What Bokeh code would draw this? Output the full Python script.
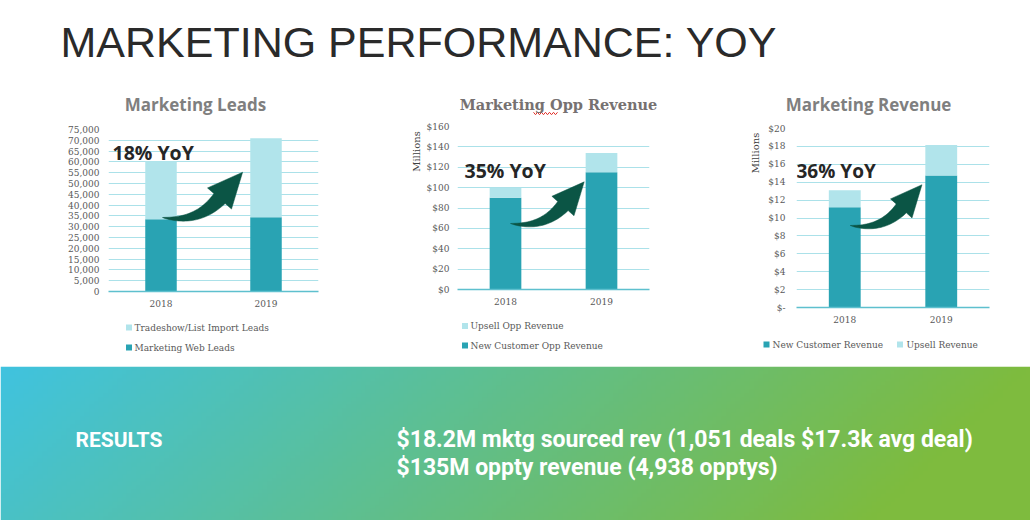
import numpy as np
from bokeh.plotting import figure
from bokeh.layouts import column, row
from bokeh.models import (FactorRange, Range1d, Label, FixedTicker,
                          NumeralTickFormatter, ColumnDataSource)
from bokeh.core.properties import value
from bokeh.embed import file_html
from bokeh.resources import INLINE

# ---------------- data ----------------
years = ["2018", "2019"]
leads_web = [33500, 34400]
leads_trade = [26800, 36600]
opp_new = [90, 115]
opp_upsell = [10, 19]
rev_new = [11.2, 14.75]
rev_upsell = [1.9, 3.4]

leads_ticks = list(range(0, 75001, 5000))
opp_ticks = list(range(0, 161, 20))
rev_ticks = list(range(0, 21, 2))

leads_legend = ["Tradeshow/List Import Leads", "Marketing Web Leads"]
opp_legend = ["Upsell Opp Revenue", "New Customer Opp Revenue"]
rev_legend = ["New Customer Revenue", "Upsell Revenue"]

DARK = "#29A3B3"
LIGHT = "#B1E4EB"
GRID = "#ABE1E9"
AXIS = "#5EC0CE"
ARROW = "#0B5545"
TXT = "#595959"
SERIF = "DejaVu Serif"
SANS = "Open Sans"


def blank(w, h):
    p = figure(width=w, height=h, x_range=Range1d(0, w), y_range=Range1d(0, h),
               min_border=0, x_axis_location=None, y_axis_location=None,
               output_backend="svg", toolbar_location=None)
    p.grid.visible = False
    p.outline_line_color = None
    return p


def lbl(p, x, y, text, size, color, font, bold=False, align="left",
        baseline="middle", angle=0.0, units="screen"):
    p.add_layout(Label(x=x, y=y, x_units=units, y_units=units, text=text,
                       text_font=font, text_font_size=f"{size}px",
                       text_color=color,
                       text_font_style="bold" if bold else "normal",
                       text_align=align, text_baseline=baseline, angle=angle))


def arrow(p, tail, fw, fh, ymax, s=1.0):
    """curved arrow annotation, shape in pixels, converted to data units"""
    P0 = np.array([0.0, 0.0])
    P1 = np.array([35.0, -6.0]) * s
    P2 = np.array([57.0, 19.0]) * s
    t = np.linspace(0, 1, 30)
    pts = ((1 - t)[:, None] ** 2) * P0 + (2 * (1 - t) * t)[:, None] * P1 + (t[:, None] ** 2) * P2
    der = 2 * (1 - t)[:, None] * (P1 - P0) + 2 * t[:, None] * (P2 - P1)
    der = der / np.linalg.norm(der, axis=1)[:, None]
    nrm = np.stack([-der[:, 1], der[:, 0]], axis=1)
    w = 7.5 * s * t ** 0.8
    upper = pts + nrm * w[:, None]
    lower = pts - nrm * w[:, None]
    d = der[-1]
    n = nrm[-1]
    head = [P2 + n * 16 * s, P2 + d * 35 * s, P2 - n * 16 * s]
    poly = np.vstack([upper, head, lower[::-1]])
    poly = poly + np.array(tail)
    xs = poly[:, 0] / (fw / 2.0)
    ys = poly[:, 1] * ymax / fh
    p.patch(xs, ys, fill_color=ARROW, line_color=ARROW, line_width=0.5)


def chart(width, left, fw, fh, ymax, ticks, fmt, overrides, bottom_vals, top_vals,
          bw, ystand):
    top, bottom = 10, 22
    p = figure(x_range=FactorRange(*years), y_range=Range1d(0, ymax),
               width=width, height=top + fh + bottom, min_border_left=left,
               min_border_right=width - left - fw, min_border_top=top,
               min_border_bottom=bottom,
               output_backend="svg", toolbar_location=None)
    p.outline_line_color = None
    p.xgrid.grid_line_color = None
    p.ygrid.grid_line_color = GRID
    p.ygrid.grid_line_width = 1.2
    p.yaxis.ticker = FixedTicker(ticks=ticks)
    p.yaxis.formatter = NumeralTickFormatter(format=fmt)
    if overrides:
        p.yaxis.major_label_overrides = overrides
    p.yaxis.axis_line_color = None
    p.yaxis.major_label_standoff = ystand
    p.xaxis.axis_line_color = AXIS
    p.xaxis.axis_line_width = 1.5
    p.xaxis.major_label_standoff = 8
    for ax in (p.xaxis, p.yaxis):
        ax.major_tick_line_color = None
        ax.minor_tick_line_color = None
        ax.major_tick_out = 0
        ax.major_tick_in = 0
        ax.minor_tick_out = 0
        ax.minor_tick_in = 0
        ax.major_label_text_font = SERIF
        ax.major_label_text_font_size = "9px"
        ax.major_label_text_color = TXT
    src = ColumnDataSource(dict(year=years, a=bottom_vals, b=top_vals))
    p.vbar_stack(["a", "b"], x="year", width=bw, source=src,
                 color=[DARK, LIGHT], line_color=None)
    return p


def legend_fig(w, h, labels, colors, sq_x, txt_x, ys):
    p = blank(w, h)
    p.scatter(x=sq_x, y=ys, marker="square", size=6, color=colors, line_color=None)
    p.text(x=txt_x, y=ys, text=labels, text_font=value(SERIF), text_font_size="9px",
           text_color=TXT, text_baseline="middle")
    return p


def title_fig(w, h, text, x, y, font, size, color):
    p = blank(w, h)
    lbl(p, x, y, text, size, color, font, bold=True, align="center", units="data")
    return p


def millions_fig(w, h, x, y):
    p = blank(w, h)
    lbl(p, x, y, "Millions", 10, "#404040", SERIF, align="center",
        angle=np.pi / 2, units="data")
    return p


# ---- column 1: Marketing Leads ----
t1 = title_fig(375, 29, "Marketing Leads", 195, 15, SANS, 17, "#7F7F7F")
p1 = chart(375, 108, 210, 162, 75000, leads_ticks, "0,0", None, leads_web,
           leads_trade, 0.3, 9)
arrow(p1, (54, 74), 210, 162, 75000, 1.0)
lbl(p1, 4, 139, "18% YoY", 19.5, "#262626", SANS, bold=True)
l1 = legend_fig(375, 53, leads_legend, [LIGHT, DARK], [128.5, 128.5], [134, 134], [39, 19])
col1 = column(t1, row(p1), l1, spacing=0)

# ---- column 2: Marketing Opp Revenue ----
t2 = title_fig(340, 26, "Marketing Opp Revenue", 183, 12, SERIF, 14.5, "#767171")
wx = np.arange(158, 183, 2)
t2.line(wx, 3 + 1.2 * (-1) ** np.arange(len(wx)), line_color="#E0302A", line_width=1)
m2 = millions_fig(47, 195, 40.5, 160)
p2 = chart(293, 35, 192, 163, 160, opp_ticks, "$0", None, opp_new, opp_upsell, 0.33, 8)
arrow(p2, (53, 66), 192, 163, 160, 0.92)
lbl(p2, 7, 119, "35% YoY", 19.5, "#262626", SANS, bold=True)
l2 = legend_fig(340, 55, opp_legend, [LIGHT, DARK], [89.5, 89.5], [95, 95], [40.5, 21])
col2 = column(t2, row(column(m2), row(p2), spacing=0), l2, spacing=0)

# ---- column 3: Marketing Revenue ----
t3 = title_fig(315, 28, "Marketing Revenue", 153, 14, SANS, 17, "#7F7F7F")
m3 = millions_fig(50, 211, 40, 176.5)
p3 = chart(265, 30, 194, 179, 20, rev_ticks, "$0", {0: "$-"}, rev_new, rev_upsell,
           0.33, 11)
arrow(p3, (54, 82), 194, 179, 20, 0.9)
lbl(p3, 0, 137, "36% YoY", 19, "#262626", SANS, bold=True)
l3 = legend_fig(315, 37, rev_legend, [DARK, LIGHT], [51, 184.5], [57, 191], [22, 22])
col3 = column(t3, row(column(m3), row(p3), spacing=0), l3, spacing=0)

# ---- header ----
ph = blank(1030, 90)
lbl(ph, 60, 48.5, "MARKETING PERFORMANCE: YOY", 43, "#2A2A2A", "Liberation Sans",
    units="data")

# ---- results band ----
pb = blank(1030, 154)
nx, ny = 220, 40
xf = np.linspace(0, 1, nx)[None, :]
yd = 1 - np.linspace(0, 1, ny)[:, None]
tt = np.clip((xf + 0.15 * yd) / 1.0, 0, 1)
c0 = np.array([64, 195, 223])
c1 = np.array([126, 187, 62])
rgb = c0[None, None, :] * (1 - tt[..., None]) + c1[None, None, :] * tt[..., None]
img = np.empty((ny, nx), dtype=np.uint32)
v = img.view(dtype=np.uint8).reshape((ny, nx, 4))
v[..., 0] = rgb[..., 0]
v[..., 1] = rgb[..., 1]
v[..., 2] = rgb[..., 2]
v[..., 3] = 255
pb.image_rgba(image=[img], x=0, y=0, dw=1030, dh=154)
for x, y, t, s in [(75, 81, "RESULTS", 21),
                   (396, 81, "$18.2M mktg sourced rev (1,051 deals $17.3k avg deal)", 23),
                   (396, 53, "$135M oppty revenue (4,938 opptys)", 23)]:
    pb.add_layout(Label(x=x, y=y, text=t, text_font="Roboto", text_font_size=f"{s}px",
                        text_font_style="bold", text_color="white",
                        text_baseline="middle"))

layout = column(ph, row(col1, col2, col3, spacing=0), pb, spacing=0)
open("out.html", "w").write(file_html(layout, INLINE))
